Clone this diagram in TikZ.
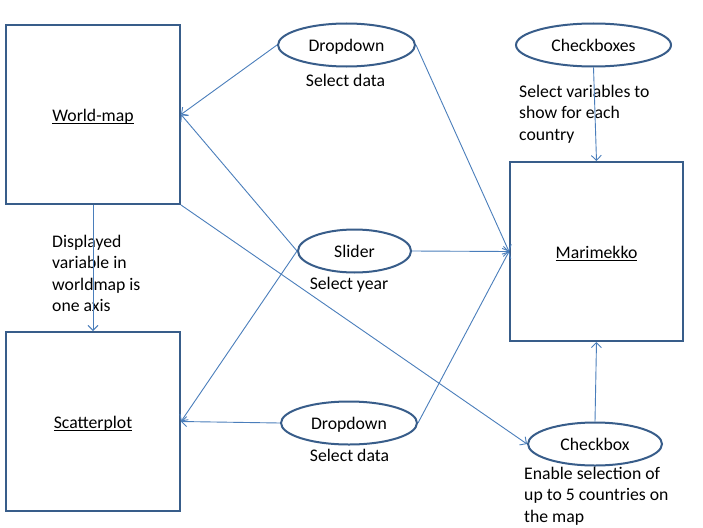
\documentclass[tikz,border=0pt]{standalone}
\usepackage{fontspec}
\setmainfont{Carlito}
\usetikzlibrary{arrows.meta,shapes.geometric}
\definecolor{boxc}{HTML}{385D8A}
\definecolor{linec}{HTML}{4A7EBB}
\newcommand\myul[1]{\setbox0\hbox{#1}\rlap{\rule[-2.6pt]{\wd0}{1.1pt}}\box0}
\begin{document}
\begin{tikzpicture}[x=1pt,y=-1pt,
  every node/.style={font=\fontsize{17.7}{21.3}\selectfont, text=black},
  bigbox/.style={draw=boxc, line width=2pt, rectangle, minimum width=174pt, minimum height=179pt, inner sep=0pt, text height=13pt, text depth=0pt},
  oval/.style={draw=boxc, line width=2pt, ellipse, minimum height=43pt, inner sep=0pt, text height=12.5pt, text depth=0pt},
  lbl/.style={inner sep=0pt, anchor=base},
  para/.style={inner sep=0pt, anchor=north west, align=left},
  conn/.style={draw=linec, line width=0.9pt, -{Straight Barb[length=5pt,width=10pt]}}]
\useasboundingbox (0,0) rectangle (703,527);
\fill[white] (0,0) rectangle (703,527);

\node[bigbox] (wm) at (93,114.5) {\myul{World-map}};
\node[bigbox] (sp) at (93,421.5) {\myul{Scatterplot}};
\node[bigbox, minimum width=173pt] (mm) at (596.5,251.5) {\myul{Marimekko}};

\node[oval, minimum width=137pt] (dd1) at (346.5,45) {Dropdown};
\node[oval, minimum width=155pt] (cbs) at (593.5,45) {Checkboxes};
\node[oval, minimum width=113pt] (sl) at (354.5,251) {Slider};
\node[oval, minimum width=136pt] (dd2) at (349,423) {Dropdown};
\node[oval, minimum width=134pt] (cb) at (595,444) {Checkbox};

\node[lbl] (l1) at (345.5,86.5) {Select data};
\node[lbl] (l2) at (349,289.5) {Select year};
\node[lbl] (l3) at (349.5,461.5) {Select data};
\node[para] (l4) at (52,235) {Displayed\\variable in\\worldmap is\\one axis};
\node[para] (l5) at (519,85) {Select variables to\\show for each\\country};
\node[para] (l6) at (524,467) {Enable selection of\\up to 5 countries on\\the map};

\draw[conn] (dd1.west) -- (wm.east);
\draw[conn] (sl.west) -- (wm.east);
\draw[conn] (sl.west) -- (sp.east);
\draw[conn] (dd2.west) -- (sp.east);
\draw[conn] (wm.south east) -- (cb.west);
\draw[conn] (wm.south) -- (sp.north);
\draw[conn] (dd1.east) -- (mm.west);
\draw[conn] (sl.east) -- (mm.west);
\draw[conn] (dd2.east) -- (mm.west);
\draw[conn] (cbs.south) -- (mm.north);
\draw[conn] (cb.north) -- (mm.south);
\end{tikzpicture}
\end{document}
